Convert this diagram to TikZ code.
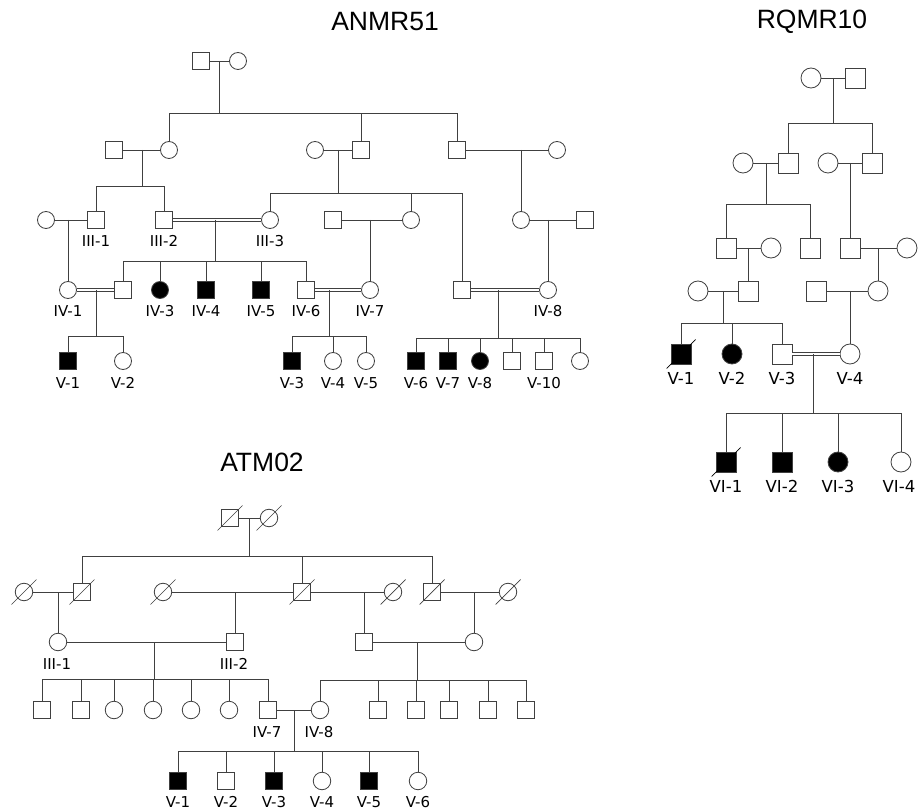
\documentclass[tikz,border=0pt]{standalone}
\usepackage{fontspec}
\newfontfamily\lblf{DejaVu Sans}
\newfontfamily\ttlf{Liberation Sans}
\definecolor{lc}{HTML}{404040}
\begin{document}
\begin{tikzpicture}[x=1pt,y=-1pt,
  male/.style={rectangle, draw=lc, line width=0.8pt, fill=white, minimum size=17pt, inner sep=0pt},
  female/.style={circle, draw=lc, line width=0.8pt, fill=white, minimum size=17pt, inner sep=0pt},
  aff/.style={fill=black},
  big/.style={minimum size=20pt},
  mid/.style={minimum size=17.5pt},
  lbl/.style={font=\lblf\fontsize{15}{17}\selectfont, inner sep=0pt, text=black},
  lblb/.style={font=\lblf\fontsize{16.5}{19}\selectfont, inner sep=0pt, text=black},
  ttl/.style={font=\ttlf\fontsize{26.5}{30}\selectfont, inner sep=0pt, text=black},
  ln/.style={draw=lc, line width=0.8pt},
  dbl/.style={draw=lc, line width=0.8pt, double=white, double distance=2pt},
  slash/.style={draw=lc, line width=0.7pt},
  bslash/.style={draw=black, line width=0.7pt}]
\useasboundingbox (0,0) rectangle (919,810);

% ================= titles
\node[ttl] (t1) at (385,22) {ANMR51};
\node[ttl] (t2) at (812,22) {RQMR10};
\node[ttl] (t3) at (262,462) {ATM02};

% ================= ANMR51
\node[male] (aI1) at (201,61) {};
\node[female] (aI2) at (238,61) {};
\node[male] (aII1) at (114,150) {};
\node[female] (aII2) at (169,150) {};
\node[female] (aII3) at (315,150) {};
\node[male] (aII4) at (361,150) {};
\node[male] (aII5) at (457,150) {};
\node[female] (aII6) at (557,150) {};
\node[female] (aIII0) at (46,220) {};
\node[male] (aIII1) at (96,220) {};
\node[male] (aIII2) at (164,220) {};
\node[female] (aIII3) at (270,220) {};
\node[male] (aIII4) at (333,220) {};
\node[female] (aIII5) at (411,220) {};
\node[female] (aIII6) at (521,220) {};
\node[male] (aIII7) at (585,220) {};
\node[female] (aIV1) at (68,290) {};
\node[male] (aIV2) at (123,290) {};
\node[female,aff] (aIV3) at (160,290) {};
\node[male,aff] (aIV4) at (206,290) {};
\node[male,aff] (aIV5) at (261,290) {};
\node[male] (aIV6) at (306,290) {};
\node[female] (aIV7) at (370,290) {};
\node[male] (aIVx) at (462,290) {};
\node[female] (aIV8) at (548,290) {};
\node[male,aff] (aV1) at (68,361) {};
\node[female] (aV2) at (123,361) {};
\node[male,aff] (aV3) at (292,361) {};
\node[female] (aV4) at (333,361) {};
\node[female] (aV5) at (366,361) {};
\node[male,aff] (aV6) at (416,361) {};
\node[male,aff] (aV7) at (448,361) {};
\node[female,aff] (aV8) at (480,361) {};
\node[male] (aV9) at (512,361) {};
\node[male] (aV10) at (544,361) {};
\node[female] (aV11) at (580,361) {};

\coordinate (am1) at (219,61);  \coordinate (as1) at (219,113);
\coordinate (am2) at (142,150); \coordinate (as2) at (142,186);
\coordinate (am3) at (338,150); \coordinate (as3) at (338,193);
\coordinate (am4) at (521,150);
\coordinate (am5) at (68,220);
\coordinate (am6) at (215,220); \coordinate (as6) at (215,261);
\coordinate (am7) at (370,220);
\coordinate (am8) at (548,220);
\coordinate (am9) at (96,290);  \coordinate (as9) at (96,336);
\coordinate (am10) at (329,290); \coordinate (as10) at (329,336);
\coordinate (am11) at (498,290); \coordinate (as11) at (498,338);

\draw[ln] (aI1) -- (aI2);
\draw[ln] (aII1) -- (aII2);
\draw[ln] (aII3) -- (aII4);
\draw[ln] (aII5) -- (aII6);
\draw[ln] (aIII0) -- (aIII1);
\draw[dbl] (aIII2) -- (aIII3);
\draw[ln] (aIII4) -- (aIII5);
\draw[ln] (aIII6) -- (aIII7);
\draw[dbl] (aIV1) -- (aIV2);
\draw[dbl] (aIV6) -- (aIV7);
\draw[dbl] (aIVx) -- (aIV8);

\draw[ln] (am1) -- (as1);
\foreach \c in {aII2,aII4,aII5} \draw[ln] (as1) -| (\c.north);
\draw[ln] (am2) -- (as2);
\foreach \c in {aIII1,aIII2} \draw[ln] (as2) -| (\c.north);
\draw[ln] (am3) -- (as3);
\foreach \c in {aIII3,aIII5,aIVx} \draw[ln] (as3) -| (\c.north);
\draw[ln] (am4) -- (aIII6.north);
\draw[ln] (am5) -- (aIV1.north);
\draw[ln] (am6) -- (as6);
\foreach \c in {aIV2,aIV3,aIV4,aIV5,aIV6} \draw[ln] (as6) -| (\c.north);
\draw[ln] (am7) -- (aIV7.north);
\draw[ln] (am8) -- (aIV8.north);
\draw[ln] (am9) -- (as9);
\foreach \c in {aV1,aV2} \draw[ln] (as9) -| (\c.north);
\draw[ln] (am10) -- (as10);
\foreach \c in {aV3,aV4,aV5} \draw[ln] (as10) -| (\c.north);
\draw[ln] (am11) -- (as11);
\foreach \c in {aV6,aV7,aV8,aV9,aV10,aV11} \draw[ln] (as11) -| (\c.north);

\node[lbl] (laIII1) at (96,241) {III-1};
\node[lbl] (laIII2) at (164,241) {III-2};
\node[lbl] (laIII3) at (270,241) {III-3};
\node[lbl] (laIV1) at (68,311) {IV-1};
\node[lbl] (laIV3) at (160,311) {IV-3};
\node[lbl] (laIV4) at (206,311) {IV-4};
\node[lbl] (laIV5) at (261,311) {IV-5};
\node[lbl] (laIV6) at (306,311) {IV-6};
\node[lbl] (laIV7) at (370,311) {IV-7};
\node[lbl] (laIV8) at (548,311) {IV-8};
\node[lbl] (laV1) at (68,383) {V-1};
\node[lbl] (laV2) at (123,383) {V-2};
\node[lbl] (laV3) at (292,383) {V-3};
\node[lbl] (laV4) at (333,383) {V-4};
\node[lbl] (laV5) at (366,383) {V-5};
\node[lbl] (laV6) at (416,383) {V-6};
\node[lbl] (laV7) at (448,383) {V-7};
\node[lbl] (laV8) at (480,383) {V-8};
\node[lbl] (laV10) at (544,383) {V-10};

% ================= RQMR10
\node[female,big] (rI1) at (811,78) {};
\node[male,big] (rI2) at (855,78) {};
\node[female,big] (rII1) at (743,163) {};
\node[male,big] (rII2) at (788,163) {};
\node[female,big] (rII3) at (828,163) {};
\node[male,big] (rII4) at (872,163) {};
\node[male,big] (rIII1) at (726,248) {};
\node[female,big] (rIII2) at (771,248) {};
\node[male,big] (rIII3) at (810,248) {};
\node[male,big] (rIII4) at (850,248) {};
\node[female,big] (rIII5) at (907,248) {};
\node[female,big] (rIV1) at (698,291) {};
\node[male,big] (rIV2) at (748,291) {};
\node[male,big] (rIV3) at (816,291) {};
\node[female,big] (rIV4) at (878,291) {};
\node[male,big,aff] (rV1) at (681,354) {};
\node[female,big,aff] (rV2) at (732,354) {};
\node[male,big] (rV3) at (782,354) {};
\node[female,big] (rV4) at (850,354) {};
\node[male,big,aff] (rVI1) at (726,462) {};
\node[male,big,aff] (rVI2) at (782,462) {};
\node[female,big,aff] (rVI3) at (838,462) {};
\node[female,big] (rVI4) at (901,462) {};

\coordinate (rm1) at (833,78);  \coordinate (rs1) at (833,123);
\coordinate (rm2) at (766,163); \coordinate (rs2) at (766,204);
\coordinate (rm3) at (850,163);
\coordinate (rm4) at (748,248);
\coordinate (rm5) at (878,248);
\coordinate (rm6) at (723,291); \coordinate (rs6) at (723,323);
\coordinate (rm7) at (850,291);
\coordinate (rm8) at (813,354); \coordinate (rs8) at (813,413);

\draw[ln] (rI1) -- (rI2);
\draw[ln] (rII1) -- (rII2);
\draw[ln] (rII3) -- (rII4);
\draw[ln] (rIII1) -- (rIII2);
\draw[ln] (rIII4) -- (rIII5);
\draw[ln] (rIV1) -- (rIV2);
\draw[ln] (rIV3) -- (rIV4);
\draw[dbl] (rV3) -- (rV4);

\draw[ln] (rm1) -- (rs1);
\foreach \c in {rII2,rII4} \draw[ln] (rs1) -| (\c.north);
\draw[ln] (rm2) -- (rs2);
\foreach \c in {rIII1,rIII3} \draw[ln] (rs2) -| (\c.north);
\draw[ln] (rm3) -- (rIII4.north);
\draw[ln] (rm4) -- (rIV2.north);
\draw[ln] (rm5) -- (rIV4.north);
\draw[ln] (rm6) -- (rs6);
\foreach \c in {rV1,rV2,rV3} \draw[ln] (rs6) -| (\c.north);
\draw[ln] (rm7) -- (rV4.north);
\draw[ln] (rm8) -- (rs8);
\foreach \c in {rVI1,rVI2,rVI3,rVI4} \draw[ln] (rs8) -| (\c.north);

\foreach \n in {rV1,rVI1}
  \draw[bslash] ([shift={(-14.5,14.5)}]\n.center) -- ([shift={(14.5,-14.5)}]\n.center);

\node[lblb] (lrV1) at (681,378) {V-1};
\node[lblb] (lrV2) at (732,378) {V-2};
\node[lblb] (lrV3) at (782,378) {V-3};
\node[lblb] (lrV4) at (850,378) {V-4};
\node[lblb] (lrVI1) at (726,486) {VI-1};
\node[lblb] (lrVI2) at (782,486) {VI-2};
\node[lblb] (lrVI3) at (838,486) {VI-3};
\node[lblb] (lrVI4) at (899,486) {VI-4};

% ================= ATM02
\node[male,mid] (tI1) at (230,518) {};
\node[female,mid] (tI2) at (269,518) {};
\node[female,mid] (tII1) at (24,592) {};
\node[male,mid] (tII2) at (82,592) {};
\node[female,mid] (tII3) at (163,592) {};
\node[male,mid] (tII4) at (302,592) {};
\node[female,mid] (tII5) at (393,592) {};
\node[male,mid] (tII6) at (432,592) {};
\node[female,mid] (tII7) at (508,592) {};
\node[female,mid] (tIII1) at (58,642) {};
\node[male,mid] (tIII2) at (235,642) {};
\node[male,mid] (tIII3) at (364,642) {};
\node[female,mid] (tIII4) at (474,642) {};
\node[male,mid] (tIV1) at (42,710) {};
\node[male,mid] (tIV2) at (81,710) {};
\node[female,mid] (tIV3) at (114,710) {};
\node[female,mid] (tIV4) at (153,710) {};
\node[female,mid] (tIV5) at (191,710) {};
\node[female,mid] (tIV6) at (229,710) {};
\node[male,mid] (tIV7) at (268,710) {};
\node[female,mid] (tIV8) at (320,710) {};
\node[male,mid] (tIV9) at (378,710) {};
\node[male,mid] (tIV10) at (416,710) {};
\node[male,mid] (tIV11) at (449,710) {};
\node[male,mid] (tIV12) at (488,710) {};
\node[male,mid] (tIV13) at (526,710) {};
\node[male,mid,aff] (tV1) at (178,781) {};
\node[male,mid] (tV2) at (226,781) {};
\node[male,mid,aff] (tV3) at (274,781) {};
\node[female,mid] (tV4) at (322,781) {};
\node[male,mid,aff] (tV5) at (369,781) {};
\node[female,mid] (tV6) at (418,781) {};

\coordinate (tm1) at (249,518); \coordinate (ts1) at (249,556);
\coordinate (tm2) at (58,592);
\coordinate (tm3) at (235,592);
\coordinate (tm4) at (364,592);
\coordinate (tm5) at (474,592);
\coordinate (tm6) at (154,642); \coordinate (ts6) at (154,679);
\coordinate (tm7) at (417,642); \coordinate (ts7) at (417,680);
\coordinate (tm8) at (294,710); \coordinate (ts8) at (294,751);

\draw[ln] (tI1) -- (tI2);
\draw[ln] (tII1) -- (tII2);
\draw[ln] (tII3) -- (tII4);
\draw[ln] (tII4) -- (tII5);
\draw[ln] (tII6) -- (tII7);
\draw[ln] (tIII1) -- (tIII2);
\draw[ln] (tIII3) -- (tIII4);
\draw[ln] (tIV7) -- (tIV8);

\draw[ln] (tm1) -- (ts1);
\foreach \c in {tII2,tII4,tII6} \draw[ln] (ts1) -| (\c.north);
\draw[ln] (tm2) -- (tIII1.north);
\draw[ln] (tm3) -- (tIII2.north);
\draw[ln] (tm4) -- (tIII3.north);
\draw[ln] (tm5) -- (tIII4.north);
\draw[ln] (tm6) -- (ts6);
\foreach \c in {tIV1,tIV2,tIV3,tIV4,tIV5,tIV6,tIV7} \draw[ln] (ts6) -| (\c.north);
\draw[ln] (tm7) -- (ts7);
\foreach \c in {tIV8,tIV9,tIV10,tIV11,tIV12,tIV13} \draw[ln] (ts7) -| (\c.north);
\draw[ln] (tm8) -- (ts8);
\foreach \c in {tV1,tV2,tV3,tV4,tV5,tV6} \draw[ln] (ts8) -| (\c.north);

\foreach \n in {tI1,tI2,tII1,tII2,tII3,tII4,tII5,tII6,tII7}
  \draw[slash] ([shift={(-12.5,12.5)}]\n.center) -- ([shift={(12.5,-12.5)}]\n.center);

\node[lbl] (ltIII1) at (57,664) {III-1};
\node[lbl] (ltIII2) at (234,664) {III-2};
\node[lbl] (ltIV7) at (267,732) {IV-7};
\node[lbl] (ltIV8) at (319,732) {IV-8};
\node[lbl] (ltV1) at (178,802) {V-1};
\node[lbl] (ltV2) at (226,802) {V-2};
\node[lbl] (ltV3) at (274,802) {V-3};
\node[lbl] (ltV4) at (322,802) {V-4};
\node[lbl] (ltV5) at (369,802) {V-5};
\node[lbl] (ltV6) at (418,802) {V-6};
\end{tikzpicture}
\end{document}
